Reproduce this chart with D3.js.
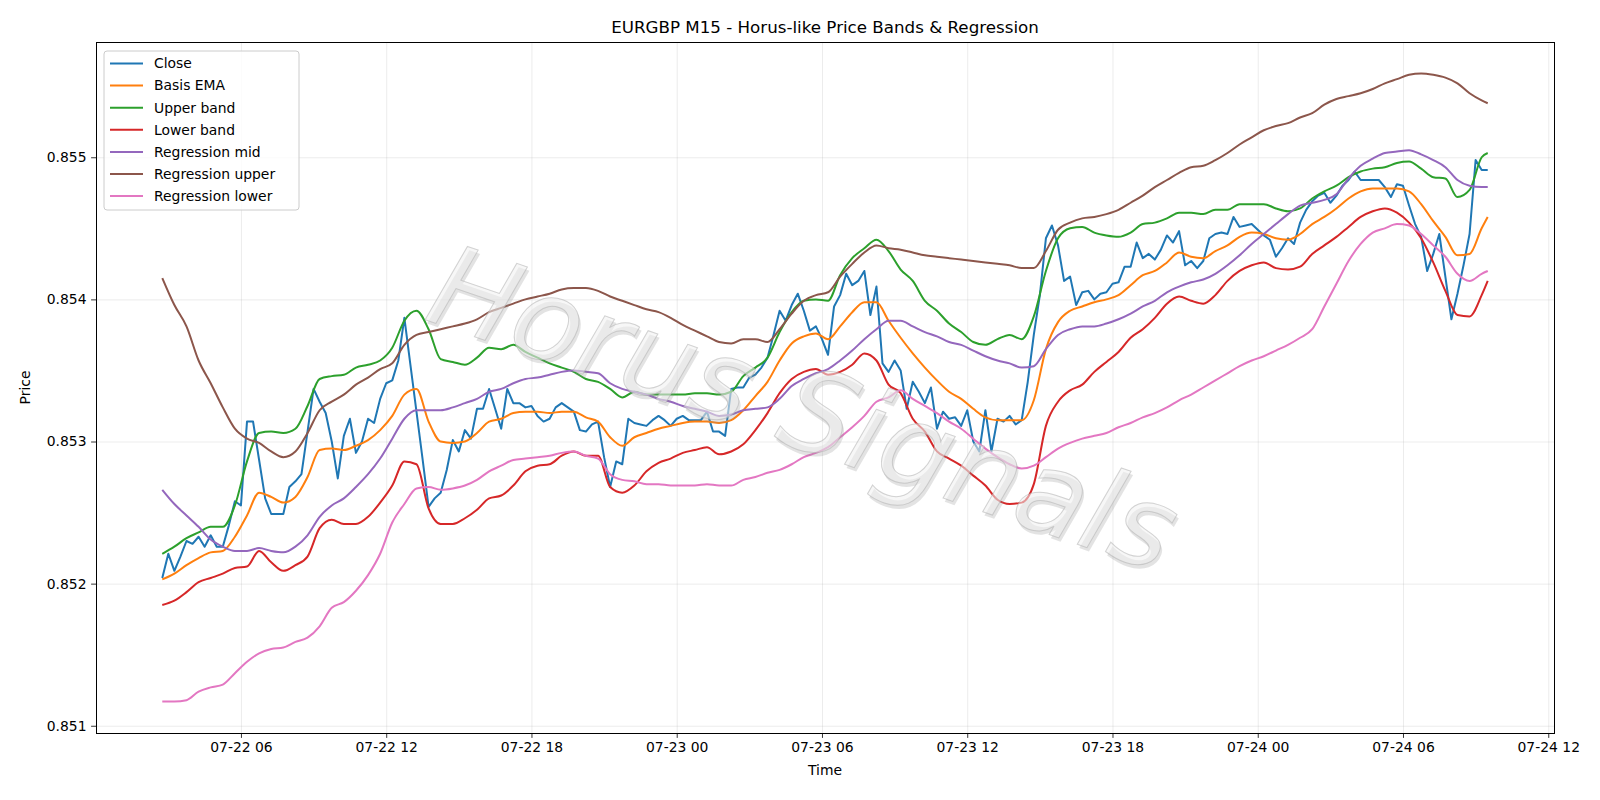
<!DOCTYPE html>
<html>
<head>
<meta charset="utf-8">
<script src="https://cdn.jsdelivr.net/npm/d3@7/dist/d3.min.js"></script>
<style>
  body { margin: 0; background: #fff; }
  svg { font-family: "DejaVu Sans", sans-serif; display: block; }
  .axis line { stroke: #000; stroke-width: 0.8px; }
  .axis path { display: none; }
  .axis text { font-size: 13.9px; fill: #000; font-family: "DejaVu Sans", sans-serif; }
  .grid line { stroke: #b0b0b0; stroke-opacity: 0.3; stroke-width: 0.8px; }
  .grid path { display: none; }
</style>
</head>
<body>
<svg></svg>
<script>
// EURGBP M15 closes, one per 15 minute bar from 07-22 02:45
var closeVals = [
  0.85204,0.85221,0.85209,0.85219,0.85230,0.85228,0.85233,0.85226,0.85234,0.85226,0.85226,0.85241,
  0.85258,0.85255,0.85314,0.85314,0.85287,0.85260,0.85249,0.85249,0.85249,0.85268,0.85272,0.85277,
  0.85307,0.85337,0.85328,0.85320,0.85300,0.85274,0.85304,0.85316,0.85292,0.85300,0.85316,0.85313,
  0.85330,0.85341,0.85343,0.85357,0.85387,0.85354,0.85321,0.85288,0.85254,0.85260,0.85264,0.85280,
  0.85301,0.85293,0.85308,0.85302,0.85323,0.85323,0.85337,0.85323,0.85309,0.85337,0.85327,0.85327,
  0.85324,0.85325,0.85318,0.85314,0.85316,0.85324,0.85327,0.85324,0.85321,0.85308,0.85307,0.85312,
  0.85314,0.85289,0.85268,0.85286,0.85284,0.85316,0.85313,0.85312,0.85311,0.85315,0.85318,0.85315,
  0.85311,0.85316,0.85318,0.85315,0.85315,0.85315,0.85321,0.85307,0.85307,0.85304,0.85337,0.85338,
  0.85338,0.85345,0.85347,0.85352,0.85359,0.85375,0.85392,0.85385,0.85396,0.85404,0.85392,0.85378,
  0.85381,0.85372,0.85361,0.85395,0.85403,0.85418,0.85410,0.85413,0.85420,0.85389,0.85409,0.85355,
  0.85349,0.85357,0.85350,0.85323,0.85342,0.85335,0.85327,0.85338,0.85309,0.85321,0.85316,0.85317,
  0.85311,0.85322,0.85300,0.85293,0.85322,0.85293,0.85316,0.85314,0.85318,0.85312,0.85315,0.85342,
  0.85375,0.85403,0.85443,0.85452,0.85438,0.85413,0.85416,0.85396,0.85405,0.85406,0.85400,0.85404,
  0.85405,0.85411,0.85412,0.85423,0.85423,0.85440,0.85429,0.85432,0.85428,0.85435,0.85445,0.85440,
  0.85448,0.85424,0.85427,0.85422,0.85427,0.85443,0.85446,0.85447,0.85446,0.85458,0.85451,0.85452,
  0.85453,0.85449,0.85445,0.85442,0.85430,0.85436,0.85443,0.85439,0.85454,0.85463,0.85469,0.85473,
  0.85475,0.85468,0.85473,0.85480,0.85484,0.85490,0.85484,0.85484,0.85484,0.85484,0.85479,0.85472,
  0.85481,0.85480,0.85466,0.85453,0.85444,0.85420,0.85432,0.85446,0.85416,0.85386,0.85404,0.85424,
  0.85446,0.85498,0.85491,0.85491
];

// the smoother series, read every second bar (plus the last one)
var emaVals = [
  0.85203,0.85207,0.85213,0.85218,0.85222,0.85223,0.85233,0.85248,0.85264,0.85261,0.85257,0.85261,
  0.85275,0.85294,0.85295,0.85294,0.85297,0.85301,0.85308,0.85318,0.85333,0.85337,0.85314,0.85300,
  0.85299,0.85300,0.85306,0.85314,0.85316,0.85320,0.85321,0.85321,0.85320,0.85321,0.85321,0.85317,
  0.85314,0.85303,0.85297,0.85303,0.85306,0.85309,0.85311,0.85313,0.85314,0.85314,0.85313,0.85315,
  0.85322,0.85332,0.85342,0.85357,0.85369,0.85374,0.85376,0.85372,0.85381,0.85391,0.85398,0.85398,
  0.85385,0.85373,0.85362,0.85352,0.85343,0.85335,0.85330,0.85323,0.85317,0.85315,0.85315,0.85315,
  0.85329,0.85365,0.85384,0.85392,0.85395,0.85398,0.85400,0.85403,0.85410,0.85417,0.85420,0.85426,
  0.85433,0.85430,0.85429,0.85434,0.85438,0.85444,0.85447,0.85446,0.85443,0.85442,0.85446,0.85453,
  0.85458,0.85464,0.85471,0.85476,0.85478,0.85478,0.85478,0.85476,0.85467,0.85455,0.85444,0.85431,
  0.85432,0.85450,0.85458
];
var upperVals = [
  0.85221,0.85226,0.85232,0.85236,0.85240,0.85240,0.85255,0.85286,0.85306,0.85307,0.85306,0.85309,
  0.85325,0.85344,0.85346,0.85347,0.85352,0.85354,0.85357,0.85366,0.85385,0.85392,0.85379,0.85358,
  0.85356,0.85354,0.85359,0.85366,0.85365,0.85368,0.85363,0.85359,0.85355,0.85352,0.85349,0.85344,
  0.85342,0.85337,0.85331,0.85335,0.85333,0.85333,0.85333,0.85333,0.85334,0.85334,0.85333,0.85335,
  0.85346,0.85352,0.85359,0.85377,0.85391,0.85399,0.85400,0.85399,0.85417,0.85429,0.85436,0.85442,
  0.85434,0.85421,0.85413,0.85399,0.85392,0.85383,0.85377,0.85370,0.85368,0.85372,0.85375,0.85372,
  0.85388,0.85420,0.85443,0.85450,0.85451,0.85447,0.85445,0.85444,0.85447,0.85453,0.85454,0.85457,
  0.85461,0.85461,0.85460,0.85463,0.85463,0.85467,0.85467,0.85467,0.85464,0.85462,0.85464,0.85471,
  0.85476,0.85480,0.85486,0.85490,0.85492,0.85493,0.85496,0.85497,0.85492,0.85486,0.85485,0.85472,
  0.85477,0.85500,0.85503
];
var lowerVals = [
  0.85185,0.85188,0.85194,0.85201,0.85204,0.85207,0.85211,0.85212,0.85223,0.85215,0.85209,0.85213,
  0.85219,0.85239,0.85245,0.85242,0.85242,0.85247,0.85257,0.85269,0.85286,0.85284,0.85253,0.85242,
  0.85242,0.85246,0.85252,0.85260,0.85262,0.85269,0.85279,0.85283,0.85284,0.85290,0.85293,0.85290,
  0.85290,0.85268,0.85264,0.85269,0.85279,0.85285,0.85288,0.85292,0.85294,0.85296,0.85291,0.85293,
  0.85298,0.85308,0.85320,0.85334,0.85344,0.85349,0.85351,0.85347,0.85349,0.85354,0.85362,0.85357,
  0.85340,0.85334,0.85316,0.85307,0.85293,0.85288,0.85283,0.85276,0.85269,0.85259,0.85256,0.85257,
  0.85270,0.85311,0.85328,0.85336,0.85340,0.85349,0.85356,0.85363,0.85373,0.85379,0.85387,0.85397,
  0.85402,0.85399,0.85397,0.85403,0.85413,0.85420,0.85424,0.85426,0.85422,0.85421,0.85423,0.85432,
  0.85438,0.85444,0.85451,0.85458,0.85462,0.85464,0.85461,0.85454,0.85443,0.85426,0.85406,0.85389,
  0.85388,0.85403,0.85413
];
var regMidVals = [
  0.85266,0.85256,0.85248,0.85240,0.85231,0.85226,0.85223,0.85223,0.85225,0.85223,0.85222,0.85226,
  0.85234,0.85247,0.85255,0.85260,0.85268,0.85277,0.85288,0.85302,0.85316,0.85322,0.85322,0.85322,
  0.85324,0.85327,0.85330,0.85335,0.85337,0.85341,0.85344,0.85345,0.85347,0.85349,0.85350,0.85349,
  0.85348,0.85341,0.85337,0.85335,0.85333,0.85330,0.85328,0.85325,0.85323,0.85321,0.85318,0.85319,
  0.85322,0.85323,0.85324,0.85330,0.85339,0.85344,0.85348,0.85351,0.85357,0.85364,0.85372,0.85379,
  0.85385,0.85385,0.85381,0.85377,0.85374,0.85370,0.85368,0.85364,0.85360,0.85357,0.85355,0.85352,
  0.85353,0.85365,0.85375,0.85379,0.85381,0.85381,0.85383,0.85386,0.85390,0.85395,0.85399,0.85405,
  0.85409,0.85412,0.85414,0.85418,0.85424,0.85431,0.85439,0.85446,0.85453,0.85460,0.85466,0.85468,
  0.85470,0.85474,0.85485,0.85494,0.85499,0.85503,0.85504,0.85505,0.85502,0.85498,0.85493,0.85484,
  0.85480,0.85479,0.85479
];
var regUpperVals = [
  0.85415,0.85396,0.85381,0.85357,0.85341,0.85324,0.85309,0.85302,0.85299,0.85293,0.85289,0.85293,
  0.85306,0.85322,0.85328,0.85333,0.85340,0.85345,0.85351,0.85355,0.85368,0.85375,0.85377,0.85379,
  0.85381,0.85383,0.85386,0.85391,0.85394,0.85397,0.85400,0.85402,0.85404,0.85407,0.85408,0.85408,
  0.85406,0.85402,0.85399,0.85396,0.85393,0.85391,0.85387,0.85382,0.85378,0.85374,0.85370,0.85369,
  0.85372,0.85372,0.85370,0.85379,0.85390,0.85399,0.85403,0.85405,0.85416,0.85425,0.85433,0.85438,
  0.85436,0.85435,0.85433,0.85431,0.85430,0.85429,0.85428,0.85427,0.85426,0.85425,0.85424,0.85422,
  0.85422,0.85434,0.85449,0.85454,0.85457,0.85458,0.85460,0.85463,0.85468,0.85473,0.85479,0.85484,
  0.85489,0.85493,0.85494,0.85498,0.85503,0.85509,0.85514,0.85519,0.85522,0.85524,0.85528,0.85531,
  0.85537,0.85541,0.85543,0.85545,0.85548,0.85552,0.85555,0.85558,0.85559,0.85558,0.85556,0.85552,
  0.85545,0.85540,0.85538
];
var regLowerVals = [
  0.85117,0.85117,0.85118,0.85124,0.85127,0.85129,0.85137,0.85145,0.85151,0.85154,0.85155,0.85159,
  0.85162,0.85170,0.85183,0.85187,0.85195,0.85206,0.85221,0.85243,0.85256,0.85267,0.85268,0.85266,
  0.85267,0.85269,0.85273,0.85279,0.85283,0.85287,0.85288,0.85289,0.85290,0.85292,0.85293,0.85290,
  0.85288,0.85277,0.85273,0.85272,0.85270,0.85270,0.85269,0.85269,0.85269,0.85270,0.85269,0.85269,
  0.85273,0.85275,0.85278,0.85280,0.85284,0.85289,0.85292,0.85296,0.85303,0.85310,0.85318,0.85328,
  0.85331,0.85336,0.85330,0.85325,0.85320,0.85314,0.85309,0.85302,0.85295,0.85289,0.85284,0.85281,
  0.85283,0.85289,0.85295,0.85299,0.85302,0.85304,0.85306,0.85310,0.85313,0.85317,0.85320,0.85324,
  0.85329,0.85333,0.85338,0.85343,0.85348,0.85353,0.85357,0.85360,0.85364,0.85368,0.85373,0.85379,
  0.85395,0.85411,0.85427,0.85439,0.85447,0.85450,0.85453,0.85452,0.85446,0.85438,0.85430,0.85418,
  0.85413,0.85418,0.85420
];

var seriesNames = ["Close", "Basis EMA", "Upper band", "Lower band",
                   "Regression mid", "Regression upper", "Regression lower"];
var yTicks = [0.851, 0.852, 0.853, 0.854, 0.855];

(function () {
  var width = 1600;
  var height = 800;
  var margin = {top: 42, right: 46, bottom: 67, left: 96};
  var plot_width = width - margin.left - margin.right;
  var plot_height = height - margin.top - margin.bottom;

  var svg = d3.select('svg')
        .attr("width", width)
        .attr("height", height);
  var g = svg.append('g').attr('transform', 'translate(' + margin.left + ',' + margin.top + ')');

  var start = new Date(2025, 6, 22, 2, 45);
  function barTime(i) { return d3.timeMinute.offset(start, 15 * i); }

  var closeIdx = d3.range(closeVals.length);
  var smoothIdx = d3.range(0, closeVals.length, 2).concat([closeVals.length - 1]);

  // matplotlib tab10
  var colors = ['#1f77b4', '#ff7f0e', '#2ca02c', '#d62728', '#9467bd', '#8c564b', '#e377c2'];
  var valueSets = [closeVals, emaVals, upperVals, lowerVals, regMidVals, regUpperVals, regLowerVals];

  var series = valueSets.map(function(vals, k) {
    var idx = k === 0 ? closeIdx : smoothIdx;
    return {
      name: seriesNames[k],
      color: colors[k],
      curve: k === 0 ? d3.curveLinear : d3.curveMonotoneX,
      points: vals.map(function(v, j) { return {t: barTime(idx[j]), v: v}; })
    };
  });

  // 5% margins like matplotlib autoscale
  var t0 = barTime(0), t1 = barTime(closeVals.length - 1);
  var tpad = (t1 - t0) * 0.05;
  var x = d3.scaleTime()
        .domain([new Date(+t0 - tpad), new Date(+t1 + tpad)])
        .range([0, plot_width]);

  var allVals = d3.merge(valueSets);
  var lo = d3.min(allVals), hi = d3.max(allVals), vpad = (hi - lo) * 0.05;
  var y = d3.scaleLinear()
        .domain([lo - vpad, hi + vpad])
        .range([plot_height, 0]);

  var xTicks = x.ticks(d3.timeHour.every(6));

  // gridlines
  g.append("g")
    .attr("class", "grid")
    .call(d3.axisBottom(x).tickValues(xTicks).tickSize(plot_height).tickFormat(""));
  g.append("g")
    .attr("class", "grid")
    .call(d3.axisLeft(y).tickValues(yTicks).tickSize(-plot_width).tickFormat(""));

  var line = d3.line()
        .x(function(d) { return x(d.t); })
        .y(function(d) { return y(d.v); });

  g.selectAll(".serie")
    .data(series)
    .enter().append("path")
    .attr("class", "serie")
    .attr("fill", "none")
    .attr("stroke", function(d) { return d.color; })
    .attr("stroke-width", 2)
    .attr("stroke-linejoin", "round")
    .attr("d", function(d) { return line.curve(d.curve)(d.points); });

  g.append("g")
    .attr("class", "axis axis--x")
    .attr("transform", "translate(0," + plot_height + ")")
    .call(d3.axisBottom(x).tickValues(xTicks)
          .tickFormat(d3.timeFormat("%m-%d %H"))
          .tickSize(4.9).tickPadding(4.6));

  g.append("g")
    .attr("class", "axis axis--y")
    .call(d3.axisLeft(y).tickValues(yTicks)
          .tickFormat(d3.format(".3f"))
          .tickSize(4.9).tickPadding(4.6));

  // frame
  g.append("rect")
    .attr("x", 0.5).attr("y", 0.5)
    .attr("width", plot_width).attr("height", plot_height)
    .attr("fill", "none")
    .attr("stroke", "#000")
    .attr("stroke-width", 1)
    .attr("shape-rendering", "crispEdges");

  // watermark: shadow first, then the light letters
  var wm = svg.append("g")
        .attr("class", "watermark")
        .attr("transform", "translate(804,408) rotate(19)")
        .attr("font-size", 114)
        .attr("font-style", "italic")
        .attr("text-anchor", "middle");

  wm.append("text")
    .attr("x", 3).attr("y", 3)
    .attr("dy", "0.35em")
    .attr("fill", "#909090")
    .attr("fill-opacity", 0.25)
    .text("Horus Signals");

  wm.append("text")
    .attr("dy", "0.35em")
    .attr("fill", "#f0f0f0")
    .attr("fill-opacity", 0.55)
    .attr("stroke", "#b0b0b0")
    .attr("stroke-opacity", 0.55)
    .attr("stroke-width", 1)
    .text("Horus Signals");

  svg.append("text")
    .attr("x", margin.left + plot_width / 2)
    .attr("y", 33)
    .attr("text-anchor", "middle")
    .attr("font-size", 16.7)
    .text("EURGBP M15 - Horus-like Price Bands & Regression");

  svg.append("text")
    .attr("x", margin.left + plot_width / 2)
    .attr("y", 775)
    .attr("text-anchor", "middle")
    .attr("font-size", 13.9)
    .text("Time");

  svg.append("text")
    .attr("transform", "translate(25.5," + (margin.top + plot_height / 2) + ") rotate(-90)")
    .attr("text-anchor", "middle")
    .attr("dy", "0.35em")
    .attr("font-size", 13.9)
    .text("Price");

  // legend
  var legend = svg.append("g")
        .attr("class", "legend")
        .attr("transform", "translate(104,51)");

  legend.append("rect")
    .attr("width", 195).attr("height", 159)
    .attr("rx", 3)
    .attr("fill", "#fff").attr("fill-opacity", 0.8)
    .attr("stroke", "#cccccc");

  var item = legend.selectAll(".item")
        .data(series)
        .enter().append("g")
        .attr("class", "item")
        .attr("transform", function(d, i) { return "translate(0," + (12.5 + i * 22.1) + ")"; });

  item.append("line")
    .attr("x1", 6).attr("x2", 39)
    .attr("stroke", function(d) { return d.color; })
    .attr("stroke-width", 2);

  item.append("text")
    .attr("x", 50)
    .attr("dy", "0.35em")
    .attr("font-size", 13.9)
    .text(function(d) { return d.name; });
})();
</script>
</body>
</html>
